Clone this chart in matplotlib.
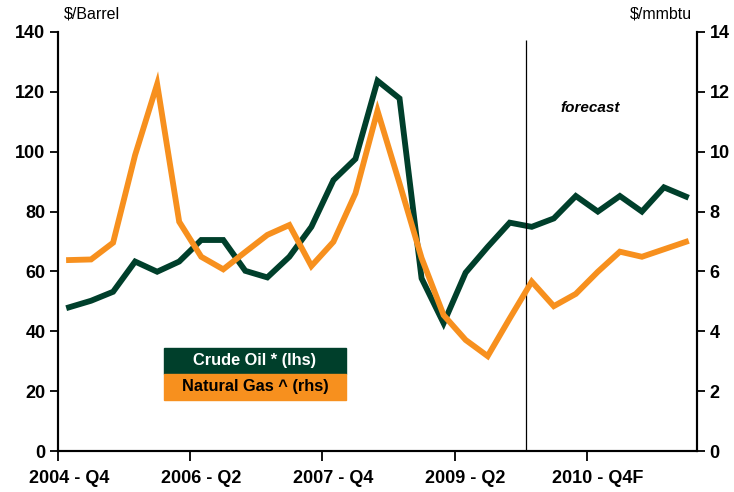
import matplotlib
matplotlib.use("Agg")
import matplotlib.pyplot as plt
from matplotlib.patches import Rectangle
import numpy as np

plt.rcParams['font.family'] = ['Liberation Sans', 'DejaVu Sans']

# quarterly, 2004 Q4 .. 2011 Q4
quarters = ["2004 - Q4", "2006 - Q2", "2007 - Q4", "2009 - Q2", "2010 - Q4F"]
crude_oil = [48.0, 50.2, 53.2, 63.3, 59.9, 63.3, 70.5, 70.5, 60.2, 58.0,
             64.9, 74.9, 90.5, 97.6, 123.7, 117.8, 57.7, 42.7, 59.6, 68.2,
             76.3, 74.9, 77.7, 85.2, 80.0, 85.2, 80.0, 88.1, 85.0]
natural_gas = [6.38, 6.40, 6.96, 9.89, 12.26, 7.66, 6.49, 6.07, 6.65, 7.22,
               7.55, 6.18, 6.99, 8.61, 11.37, 8.94, 6.45, 4.54, 3.71, 3.17,
               4.43, 5.66, 4.84, 5.25, 5.99, 6.66, 6.49, 6.74, 6.99]
forecast_start = 20.75

green = "#003F2B"
orange = "#F7901E"

fig = plt.figure(figsize=(7.34, 4.92), dpi=100)
W, H = 734, 492
ax = fig.add_axes([58 / W, 1 - 451 / H, (697 - 58) / W, (451 - 32) / H])
ax2 = ax.twinx()

x = np.arange(len(crude_oil))
ax.plot(x, crude_oil, color=green, lw=4.2, solid_joinstyle="miter")
ax2.plot(x, natural_gas, color=orange, lw=4.2, solid_joinstyle="miter")

ax.vlines(forecast_start, 0, 137.3, color="black", lw=0.9)

ax.set_xlim(-0.5, len(x) - 0.5)
ax.set_ylim(0, 140)
ax2.set_ylim(0, 14)
ax.set_yticks(np.arange(0, 141, 20))
ax2.set_yticks(np.arange(0, 15, 2))

# ticks at category boundaries, labels in the category centre
ax.set_xticks(np.arange(-0.5, len(x), 6))
ax.set_xticklabels([])
ax.set_xticks(np.arange(0, len(x), 6), minor=True)
ax.set_xticklabels(quarters, minor=True)
ax.tick_params(axis="x", which="minor", length=0, pad=14)
ax.tick_params(axis="x", which="major", length=7, width=1.3, direction="out")

for a in (ax, ax2):
    a.tick_params(axis="y", length=6, width=1.3, labelsize=13, pad=3)
    for lab in a.get_yticklabels():
        lab.set_fontweight("bold")
    for s in a.spines.values():
        s.set_linewidth(1.5)
    a.spines["top"].set_visible(False)
for lab in ax.get_xticklabels(minor=True):
    lab.set_fontweight("bold")
    lab.set_fontsize(13)

fig.text(64 / W, 1 - 14 / H, "$/Barrel", fontsize=11.5, ha="left", va="center")
fig.text(692 / W, 1 - 14 / H, "$/mmbtu", fontsize=11.5, ha="right", va="center")
fig.text(590 / W, 1 - 108 / H, "forecast", fontsize=11, fontweight="bold",
         fontstyle="italic", ha="center", va="center")

# legend boxes
fig.patches.append(Rectangle((164 / W, 1 - 374 / H), 182 / W, 26 / H,
                             transform=fig.transFigure, color=green, zorder=5))
fig.patches.append(Rectangle((164 / W, 1 - 400 / H), 182 / W, 26 / H,
                             transform=fig.transFigure, color=orange, zorder=5))
fig.text(255 / W, 1 - 361 / H, "Crude Oil * (lhs)", color="white", fontsize=11.8,
         fontweight="bold", ha="center", va="center", zorder=6)
fig.text(255 / W, 1 - 387 / H, "Natural Gas ^ (rhs)", color="black", fontsize=11.8,
         fontweight="bold", ha="center", va="center", zorder=6)

fig.savefig("out.png", dpi=100)
